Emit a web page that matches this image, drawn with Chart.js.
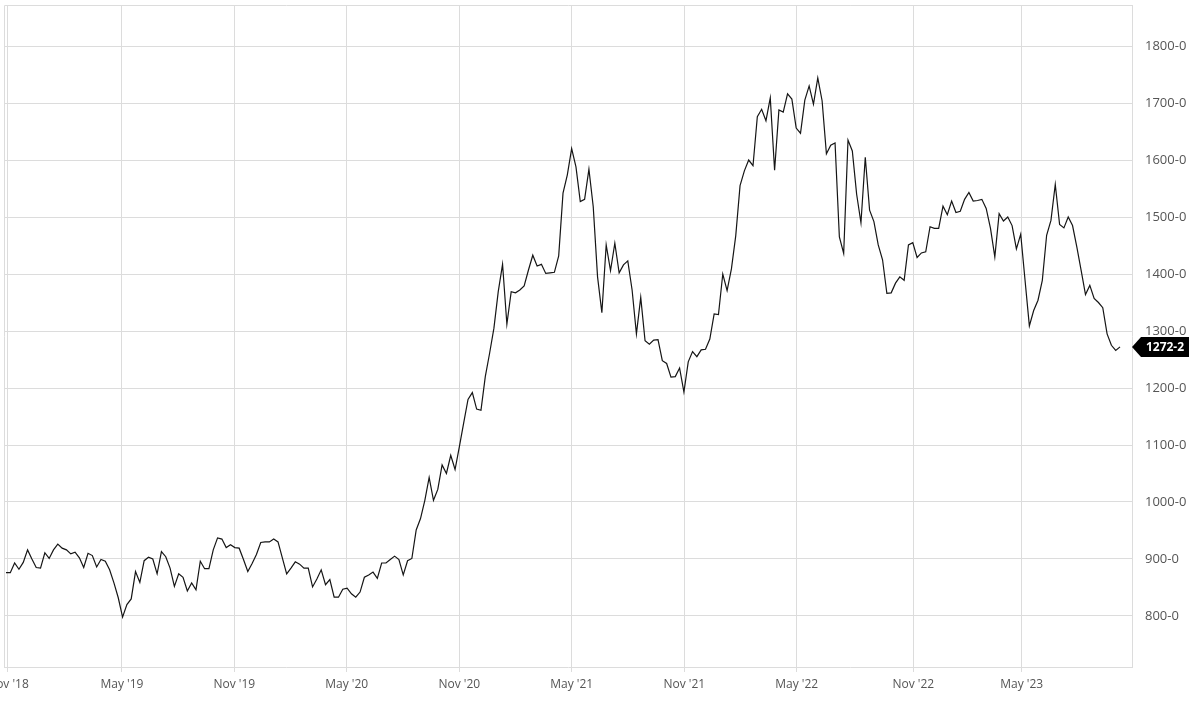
<!DOCTYPE html>
<html>
<head>
<meta charset="utf-8">
<script src="https://cdn.jsdelivr.net/npm/chart.js@4"></script>
<style>
  html, body { margin: 0; padding: 0; background: #fff; overflow: hidden; }
  #wrap { position: absolute; left: -40px; top: 0; width: 1240px; height: 706px; }
</style>
</head>
<body>
<div id="wrap"><canvas id="priceChart"></canvas></div>
<script>
// weekly closes, first week = end of Oct 2018
const prices = [
  876, 876, 893, 882, 894, 916, 900, 885, 884, 911,
  901, 916, 926, 919, 916, 909, 912, 902, 885, 910,
  906, 886, 899, 896, 881, 858, 832, 798, 820, 830,
  878, 859, 897, 903, 900, 874, 913, 904, 884, 852,
  874, 868, 844, 858, 846, 896, 883, 883, 916, 937,
  935, 920, 925, 920, 919, 899, 878, 892, 908, 929,
  930, 930, 935, 930, 902, 874, 884, 895, 891, 884,
  884, 851, 865, 881, 855, 864, 833, 833, 847, 849,
  839, 833, 842, 868, 872, 877, 866, 893, 893, 899,
  905, 899, 872, 897, 901, 951, 971, 1003, 1043, 1003,
  1022, 1065, 1050, 1082, 1057, 1097, 1139, 1180, 1192, 1163,
  1161, 1220, 1261, 1305, 1369, 1417, 1312, 1369, 1367, 1372,
  1379, 1407, 1433, 1414, 1417, 1401, 1402, 1403, 1432, 1542,
  1574, 1620, 1588, 1527, 1531, 1584, 1518, 1395, 1332, 1451,
  1406, 1454, 1402, 1416, 1423, 1372, 1295, 1359, 1283, 1277,
  1284, 1285, 1248, 1243, 1219, 1220, 1235, 1193, 1246, 1264,
  1255, 1267, 1268, 1286, 1330, 1329, 1400, 1371, 1409, 1467,
  1555, 1581, 1600, 1590, 1676, 1689, 1669, 1709, 1582, 1688,
  1684, 1716, 1707, 1656, 1647, 1705, 1730, 1698, 1744, 1704,
  1611, 1626, 1630, 1465, 1436, 1635, 1616, 1540, 1490, 1605,
  1512, 1492, 1451, 1425, 1366, 1367, 1384, 1395, 1389, 1451,
  1455, 1429, 1437, 1439, 1483, 1480, 1480, 1519, 1504, 1528,
  1508, 1510, 1531, 1543, 1528, 1529, 1531, 1515, 1480, 1430,
  1506, 1493, 1500, 1485, 1444, 1470, 1389, 1309, 1336, 1354,
  1389, 1468, 1494, 1557, 1487, 1481, 1500, 1485, 1447, 1406,
  1364, 1380, 1357, 1350, 1341, 1295, 1275, 1266, 1272.2
];

// x axis ticks, in weeks from the first point
const xTickWeeks = [0.46, 26.86, 52.87, 78.9, 104.98, 131.01, 157.09, 183.12, 210.12, 235.22];
const xTickLabels = ["Nov '18", "May '19", "Nov '19", "May '20", "Nov '20", "May '21", "Nov '21", "May '22", "Nov '22", "May '23"];
const yTicks = [800, 900, 1000, 1100, 1200, 1300, 1400, 1500, 1600, 1700, 1800];

const fmt = v => v.toFixed(1).replace('.', '-');
const gridColor = '#dcdcdc';

// frame on top and left of the plot
const framePlugin = {
  id: 'frame',
  beforeDatasetsDraw(chart) {
    const { ctx, chartArea: a } = chart;
    ctx.save();
    ctx.strokeStyle = gridColor;
    ctx.lineWidth = 1;
    ctx.beginPath();
    ctx.moveTo(a.left + 0.5, a.bottom);
    ctx.lineTo(a.left + 0.5, a.top + 0.5);
    ctx.lineTo(a.right, a.top + 0.5);
    ctx.stroke();
    ctx.restore();
  }
};

// black tag with the last value on the right axis
const lastTagPlugin = {
  id: 'lastTag',
  afterDraw(chart) {
    const { ctx, chartArea: a } = chart;
    const last = prices[prices.length - 1];
    const y = Math.round(chart.scales.y.getPixelForValue(last));
    const x0 = a.right;
    ctx.save();
    ctx.fillStyle = '#000';
    ctx.beginPath();
    ctx.moveTo(x0, y);
    ctx.lineTo(x0 + 9, y - 10);
    ctx.lineTo(x0 + 57, y - 10);
    ctx.lineTo(x0 + 57, y + 10);
    ctx.lineTo(x0 + 9, y + 10);
    ctx.closePath();
    ctx.fill();
    ctx.fillStyle = '#fff';
    ctx.font = 'bold 12px "Open Sans"';
    ctx.textAlign = 'center';
    ctx.textBaseline = 'middle';
    ctx.fillText(fmt(last), x0 + 33, y + 0.5);
    ctx.restore();
  }
};

const ctx = document.getElementById('priceChart').getContext('2d');
new Chart(ctx, {
  type: 'line',
  data: {
    datasets: [{
      data: prices.map((p, i) => ({ x: i, y: p })),
      borderColor: '#151515',
      borderWidth: 1.2,
      pointRadius: 0,
      tension: 0,
      fill: false
    }]
  },
  options: {
    responsive: true,
    maintainAspectRatio: false,
    animation: false,
    devicePixelRatio: 1,
    layout: { padding: { left: 44, top: 5, right: 0, bottom: 0 } },
    plugins: {
      legend: { display: false },
      tooltip: { enabled: false }
    },
    scales: {
      x: {
        type: 'linear',
        min: -0.46,
        max: 260.77,
        afterBuildTicks: s => { s.ticks = xTickWeeks.map(v => ({ value: v })); },
        afterFit: s => { s.height = 39; },
        grid: { color: gridColor, tickLength: 5 },
        border: { color: gridColor },
        ticks: {
          autoSkip: false,
          maxRotation: 0,
          padding: 5,
          color: '#555',
          font: { family: 'Open Sans', size: 12 },
          callback: (v, i) => xTickLabels[i]
        }
      },
      y: {
        position: 'right',
        min: 710.5,
        max: 1872,
        afterBuildTicks: s => { s.ticks = yTicks.map(v => ({ value: v })); },
        afterFit: s => { s.width = 68; s.paddingTop = 0; s.paddingBottom = 0; },
        grid: { color: gridColor, drawTicks: false },
        border: { color: gridColor },
        ticks: {
          padding: 13,
          color: '#555',
          font: { family: 'Open Sans', size: 13 },
          callback: v => fmt(v)
        }
      }
    }
  },
  plugins: [framePlugin, lastTagPlugin]
});
</script>
</body>
</html>
